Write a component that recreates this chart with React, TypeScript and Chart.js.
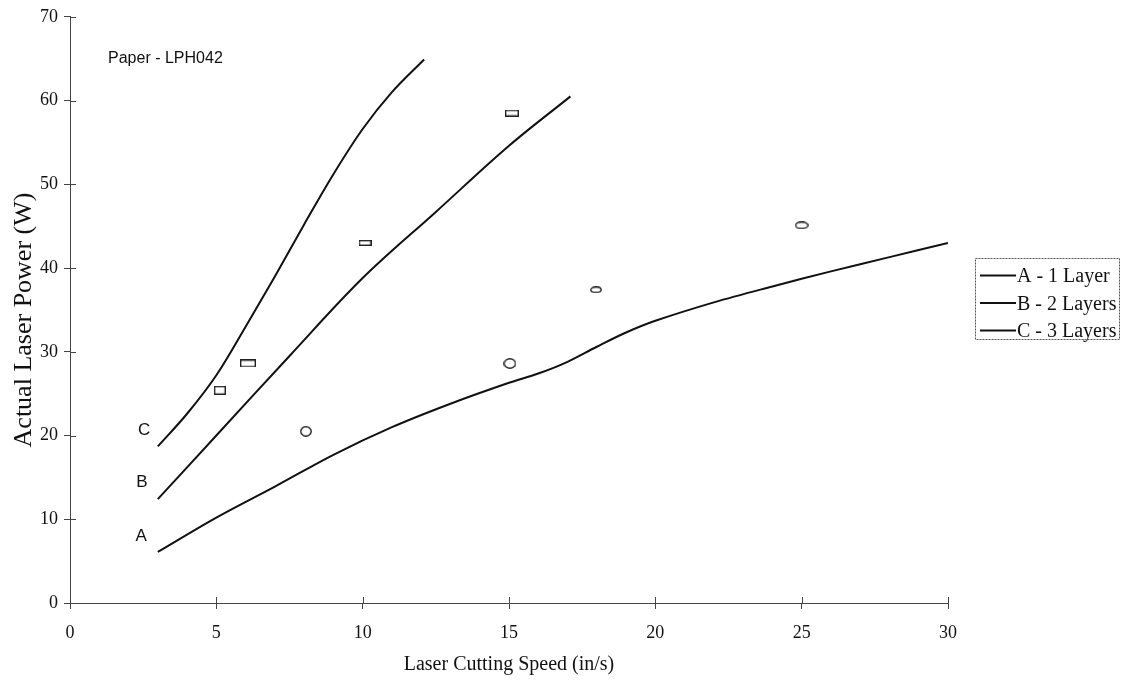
import React, { useEffect, useRef } from "react";
import { Chart, registerables } from "chart.js";

Chart.register(...registerables);

// ---- data ----
const aX = [3, 5, 7, 9, 11, 13, 15, 16, 17, 18, 19, 20, 22, 24, 26, 28, 30];
const aY = [6.1, 10.2, 13.9, 17.7, 21.0, 23.8, 26.3, 27.4, 28.8, 30.6, 32.3, 33.7, 35.9, 37.8, 39.6, 41.3, 43.0];

const bX = [3, 5, 7.5, 10, 12.5, 15, 17.1];
const bY = [12.4, 20.0, 29.5, 38.8, 46.7, 54.6, 60.5];

const cX = [3, 4, 5, 6, 7, 8, 9, 10, 11, 12.1];
const cY = [18.7, 22.6, 27.2, 33.0, 39.0, 45.2, 51.2, 56.6, 61.0, 64.9];

const rectX = [5.12, 6.08, 10.08, 15.1];
const rectY = [25.4, 28.6, 43.0, 58.5];

const ellipseX = [8.06, 15.03, 17.97, 25.0];
const ellipseY = [20.5, 28.6, 37.4, 45.1];

const curveLabels = ["A", "B", "C"];
const curveLabelX = [2.43, 2.46, 2.53];
const curveLabelY = [7.98, 14.4, 20.6];

const noteText = "Paper - LPH042";
const noteX = 1.3;
const noteY = 65.0;

const xTitle = "Laser Cutting Speed (in/s)";
const yTitle = "Actual Laser Power (W)";
const legendLabels = ["A - 1 Layer", "B - 2 Layers", "C - 3 Layers"];
const xTickValues = [0, 5, 10, 15, 20, 25, 30];
const yTickValues = [0, 10, 20, 30, 40, 50, 60, 70];

// ---- styles ----
const rectSizes = [[12, 9], [16, 8], [13, 6], [14, 7]];
const ellipseSizes = [[12, 11], [13, 11], [12, 7], [14, 8]];
const SERIF = "'Liberation Serif', 'Times New Roman', serif";
const SANS = "'Liberation Sans', Arial, sans-serif";
const AXIS_COLOR = "#444";

function makeMarker(kind: "rect" | "ellipse", w: number, h: number) {
  const c = document.createElement("canvas");
  c.width = w;
  c.height = h;
  const ctx = c.getContext("2d")!;
  ctx.strokeStyle = "#222";
  ctx.lineWidth = 1.4;
  ctx.fillStyle = "#fff";
  if (kind === "rect") {
    ctx.fillRect(0, 0, w, h);
    ctx.strokeRect(0.7, 0.7, w - 1.4, h - 1.4);
  } else {
    ctx.beginPath();
    ctx.ellipse(w / 2, h / 2, w / 2 - 0.8, h / 2 - 0.8, 0, 0, Math.PI * 2);
    ctx.fill();
    ctx.stroke();
  }
  return c;
}

const zip = (xs: number[], ys: number[]) => xs.map((x, i) => ({ x, y: ys[i] }));

const decorPlugin = {
  id: "decor",
  afterDraw(chart: any) {
    const ctx = chart.ctx as CanvasRenderingContext2D;
    const xs = chart.scales.x;
    const ys = chart.scales.y;
    const area = chart.chartArea;
    ctx.save();
    // inward tick marks (ticks cross the axes)
    ctx.strokeStyle = AXIS_COLOR;
    ctx.lineWidth = 1;
    ctx.setLineDash([]);
    xTickValues.forEach((v) => {
      const px = Math.round(xs.getPixelForValue(v)) + 0.5;
      ctx.beginPath();
      ctx.moveTo(px, area.bottom);
      ctx.lineTo(px, area.bottom - 6);
      ctx.stroke();
    });
    yTickValues.forEach((v) => {
      const py = Math.round(ys.getPixelForValue(v)) + 0.5;
      ctx.beginPath();
      ctx.moveTo(area.left, py);
      ctx.lineTo(area.left + 6, py);
      ctx.stroke();
    });
    // y axis title
    ctx.fillStyle = "#111";
    ctx.save();
    ctx.translate(24, 320);
    ctx.rotate(-Math.PI / 2);
    ctx.font = `26px ${SERIF}`;
    ctx.textAlign = "center";
    ctx.textBaseline = "middle";
    ctx.fillText(yTitle, 0, 0);
    ctx.restore();
    // curve labels
    ctx.font = `17px ${SANS}`;
    ctx.textAlign = "center";
    ctx.textBaseline = "middle";
    curveLabels.forEach((t, i) => {
      ctx.fillText(t, xs.getPixelForValue(curveLabelX[i]), ys.getPixelForValue(curveLabelY[i]));
    });
    // note
    ctx.font = `16px ${SANS}`;
    ctx.textAlign = "left";
    ctx.fillText(noteText, xs.getPixelForValue(noteX), ys.getPixelForValue(noteY));
    // legend
    const lx = 975.5, ly = 258.5, lw = 144, lh = 81;
    ctx.strokeStyle = "#555";
    ctx.lineWidth = 1;
    ctx.setLineDash([2, 1]);
    ctx.strokeRect(lx, ly, lw, lh);
    ctx.setLineDash([]);
    ctx.font = `20px ${SERIF}`;
    ctx.textBaseline = "middle";
    ctx.textAlign = "left";
    legendLabels.forEach((t, i) => {
      const cy = 275.5 + i * 27.5;
      ctx.strokeStyle = "#111";
      ctx.lineWidth = 2;
      ctx.beginPath();
      ctx.moveTo(980, cy);
      ctx.lineTo(1016, cy);
      ctx.stroke();
      ctx.fillStyle = "#111";
      ctx.fillText(t, 1017, cy + 1.5);
    });
    ctx.restore();
  },
};

export default function App() {
  const ref = useRef<HTMLCanvasElement | null>(null);
  useEffect(() => {
    if (!ref.current) return;
    const lineStyle = {
      showLine: true,
      borderColor: "#111",
      borderWidth: 2,
      pointRadius: 0,
      pointHoverRadius: 0,
      tension: 0.35,
      fill: false,
    };
    const chart = new Chart(ref.current, {
      type: "scatter",
      data: {
        datasets: [
          { label: legendLabels[0], data: zip(aX, aY), ...lineStyle },
          { label: legendLabels[1], data: zip(bX, bY), ...lineStyle },
          { label: legendLabels[2], data: zip(cX, cY), ...lineStyle },
          {
            label: "rect points",
            data: zip(rectX, rectY),
            showLine: false,
            pointStyle: rectSizes.map(([w, h]) => makeMarker("rect", w, h)) as any,
            pointRadius: 6,
          },
          {
            label: "ellipse points",
            data: zip(ellipseX, ellipseY),
            showLine: false,
            pointStyle: ellipseSizes.map(([w, h]) => makeMarker("ellipse", w, h)) as any,
            pointRadius: 6,
          },
        ],
      },
      options: {
        responsive: false,
        animation: false,
        events: [],
        layout: { padding: { left: 0, right: 176, top: 15, bottom: 0 } },
        plugins: { legend: { display: false }, tooltip: { enabled: false } },
        scales: {
          x: {
            type: "linear",
            min: 0,
            max: 30,
            afterFit: (s: any) => { s.height = 81; },
            ticks: { stepSize: 5, color: "#111", font: { family: SERIF, size: 18 }, padding: 13, maxRotation: 0 },
            grid: { drawOnChartArea: false, drawTicks: true, tickLength: 6, color: AXIS_COLOR },
            border: { display: true, color: AXIS_COLOR, width: 1, dash: [3, 1] },
            title: {
              display: true,
              text: xTitle,
              color: "#111",
              font: { family: SERIF, size: 20 },
              padding: { top: 0, bottom: 7 },
            },
          },
          y: {
            type: "linear",
            min: 0,
            max: 70,
            afterFit: (s: any) => { s.width = 70; },
            ticks: { stepSize: 10, color: "#111", font: { family: SERIF, size: 18 }, padding: 6 },
            grid: { drawOnChartArea: false, drawTicks: true, tickLength: 6, color: AXIS_COLOR },
            border: { display: true, color: AXIS_COLOR, width: 1, dash: [3, 1] },
            title: { display: false },
          },
        },
      },
      plugins: [decorPlugin],
    });
    return () => chart.destroy();
  }, []);
  return (
    <div style={{ position: "fixed", left: 0, top: 0, width: 1124, height: 684, background: "#fff" }}>
      <canvas ref={ref} width={1124} height={684} style={{ display: "block" }} />
    </div>
  );
}
